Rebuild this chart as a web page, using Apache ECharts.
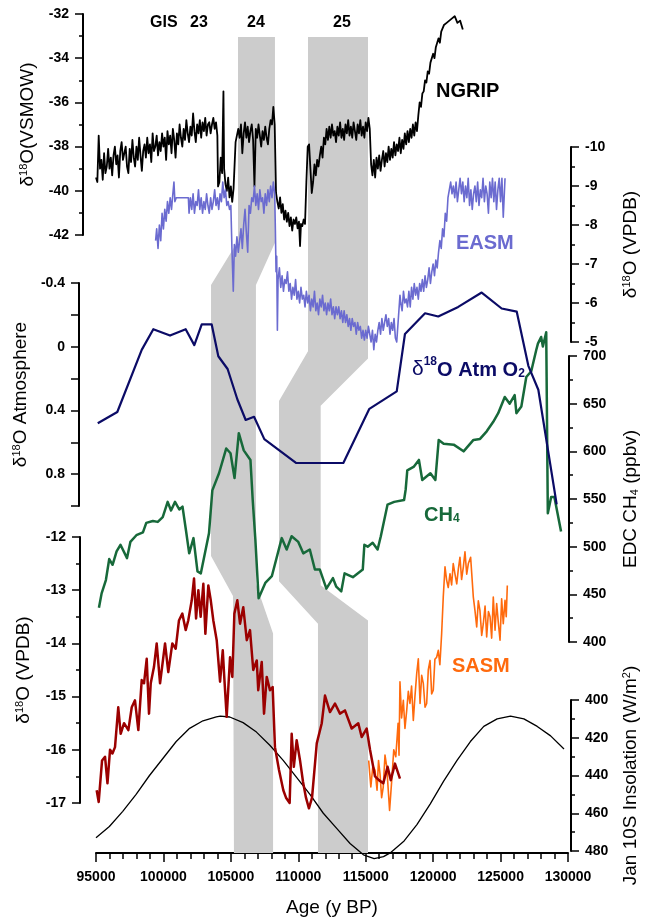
<!DOCTYPE html>
<html>
<head>
<meta charset="utf-8">
<script src="https://cdn.jsdelivr.net/npm/echarts@6/dist/echarts.min.js"></script>
<style>
  html, body { margin: 0; padding: 0; background: #fff; }
  #chart { width: 648px; height: 922px; }
</style>
</head>
<body>
<div id="chart"></div>
<script>
// ages in years BP
var ngrip = [
  [95000, -39.4], [95100, -39.6], [95200, -37.5], [95300, -39.0], [95400, -38.6], [95500, -39.5],
  [95600, -38.3], [95700, -39.2], [95800, -38.9], [95900, -38.1], [96000, -39.0], [96100, -38.5],
  [96200, -39.3], [96300, -38.4], [96400, -38.0], [96500, -38.8], [96600, -38.4], [96700, -39.4],
  [96800, -38.2], [96900, -37.8], [97000, -38.6], [97200, -38.0], [97300, -38.9], [97400, -39.2],
  [97500, -38.1], [97600, -38.7], [97700, -37.7], [97800, -38.5], [97900, -38.9], [98000, -38.0],
  [98100, -38.6], [98200, -37.6], [98300, -38.4], [98400, -39.1], [98500, -38.2], [98600, -37.9],
  [98700, -38.5], [98800, -37.6], [98900, -38.3], [99000, -37.9], [99100, -38.7], [99200, -37.4],
  [99300, -38.2], [99400, -38.0], [99500, -37.5], [99600, -38.4], [99700, -37.8], [99800, -38.2],
  [99900, -37.4], [100000, -38.0], [100100, -37.6], [100200, -38.6], [100300, -37.3], [100400, -37.9],
  [100500, -37.5], [100600, -38.3], [100700, -37.2], [100800, -37.7], [100900, -38.5], [101000, -37.4],
  [101100, -37.9], [101200, -37.0], [101300, -37.6], [101400, -38.0], [101500, -37.2], [101600, -37.7],
  [101700, -36.8], [101800, -37.4], [101900, -37.8], [102000, -37.1], [102100, -37.5], [102200, -36.5],
  [102300, -37.3], [102400, -37.8], [102500, -37.0], [102600, -37.4], [102700, -36.8], [102800, -37.6],
  [102900, -36.9], [103000, -37.3], [103100, -36.7], [103200, -37.5], [103300, -37.0], [103400, -36.9],
  [103500, -37.4], [103600, -37.0], [103700, -36.7], [103800, -37.2], [103900, -36.9], [104000, -37.5],
  [104050, -39.8], [104150, -39.6], [104250, -38.5], [104350, -39.2], [104450, -35.5], [104500, -39.0],
  [104600, -39.7], [104700, -40.0], [104800, -39.4], [104900, -40.3], [105000, -39.8], [105100, -40.5],
  [105200, -39.9], [105350, -37.8], [105450, -37.8], [105550, -37.2], [105650, -37.6], [105750, -37.0],
  [105850, -38.3], [105950, -37.4], [106050, -36.9], [106150, -37.6], [106250, -37.1], [106350, -37.8],
  [106450, -37.3], [106550, -37.0], [106650, -37.7], [106750, -39.8], [106850, -37.2], [106950, -37.6],
  [107050, -37.0], [107150, -37.5], [107250, -38.0], [107350, -37.3], [107450, -37.7], [107550, -37.1],
  [107650, -37.6], [107750, -37.9], [107850, -37.2], [107950, -36.8], [108050, -37.0], [108150, -36.2],
  [108250, -37.0], [108350, -40.1], [108450, -40.5], [108550, -40.8], [108650, -40.3], [108750, -41.0],
  [108850, -40.6], [108950, -41.3], [109050, -40.9], [109150, -41.4], [109250, -41.0], [109350, -41.6],
  [109450, -41.2], [109550, -41.8], [109650, -41.3], [109750, -41.5], [109850, -41.2], [109950, -41.7],
  [110050, -41.4], [110130, -42.5], [110200, -41.5], [110300, -41.6], [110400, -41.3], [110500, -41.5],
  [110600, -39.6], [110700, -38.0], [110800, -37.9], [110900, -39.0], [111000, -40.1], [111100, -39.6],
  [111200, -38.8], [111300, -39.3], [111400, -38.6], [111500, -38.9], [111600, -38.4], [111700, -38.0],
  [111800, -38.5], [111900, -37.6], [112000, -37.9], [112100, -37.2], [112200, -37.7], [112300, -37.1],
  [112400, -37.6], [112500, -37.0], [112600, -37.5], [112700, -37.3], [112800, -37.8], [112900, -37.1],
  [113000, -37.5], [113100, -36.9], [113200, -37.6], [113300, -37.2], [113400, -37.7], [113500, -37.0],
  [113600, -37.4], [113700, -36.8], [113800, -37.5], [113900, -37.1], [114000, -37.6], [114100, -36.9],
  [114200, -37.3], [114300, -37.7], [114400, -37.0], [114500, -37.4], [114600, -36.8], [114700, -37.5],
  [114800, -37.1], [114900, -37.6], [115000, -36.9], [115100, -37.3], [115200, -36.7], [115300, -37.2],
  [115400, -38.8], [115500, -39.3], [115600, -38.6], [115700, -39.4], [115800, -38.5], [115900, -39.0],
  [116000, -38.4], [116100, -39.1], [116200, -38.6], [116300, -38.2], [116400, -38.9], [116500, -38.3],
  [116600, -38.7], [116700, -38.0], [116800, -38.6], [116900, -38.1], [117000, -38.5], [117100, -37.8],
  [117200, -38.4], [117300, -37.9], [117400, -38.2], [117500, -37.6], [117600, -38.3], [117700, -37.7],
  [117800, -38.1], [117900, -37.4], [118000, -37.9], [118100, -37.3], [118200, -37.8], [118300, -37.2],
  [118400, -37.6], [118500, -37.0], [118600, -37.5], [118700, -36.9], [118800, -37.3], [118900, -36.6],
  [119000, -36.0], [119100, -36.2], [119200, -35.6], [119300, -35.5], [119400, -35.0], [119500, -35.1],
  [119600, -34.6], [119700, -34.7], [119800, -34.2], [120000, -33.8], [120100, -34.0], [120200, -33.5],
  [120400, -33.1], [120500, -33.3], [120600, -32.8], [120800, -32.5], [121000, -32.4], [121200, -32.3],
  [121400, -32.2], [121600, -32.1], [121800, -32.4], [122000, -32.3], [122200, -32.7]
];

var easm = [
  [99420, -7.6], [99500, -7.9], [99600, -7.4], [99700, -8.0], [99800, -7.6], [99900, -8.3],
  [100000, -7.9], [100100, -8.4], [100200, -8.1], [100300, -8.6], [100400, -8.3], [100500, -8.7],
  [100600, -8.4], [100700, -8.8], [100780, -9.1], [100850, -8.6], [100950, -8.7], [101100, -8.7],
  [101300, -8.7], [101500, -8.7], [101700, -8.7], [101850, -8.7], [101900, -8.3], [102000, -8.7],
  [102100, -8.4], [102200, -8.8], [102300, -8.3], [102400, -8.6], [102500, -8.5], [102600, -8.9],
  [102700, -8.4], [102800, -8.7], [102900, -8.3], [103000, -8.6], [103100, -8.4], [103200, -8.8],
  [103300, -8.5], [103400, -8.3], [103500, -8.7], [103600, -8.4], [103700, -8.6], [103800, -8.9],
  [103900, -8.5], [104000, -8.7], [104100, -8.4], [104200, -8.8], [104300, -8.6], [104400, -9.1],
  [104500, -8.7], [104600, -8.9], [104700, -8.5], [104800, -8.6], [104900, -8.4], [105000, -8.5],
  [105080, -7.4], [105180, -6.3], [105260, -7.5], [105350, -7.2], [105450, -7.7], [105550, -7.3],
  [105650, -7.6], [105750, -7.9], [105850, -7.4], [105950, -8.0], [106050, -8.4], [106150, -7.8],
  [106250, -7.3], [106350, -8.5], [106450, -8.3], [106550, -8.7], [106650, -8.6], [106750, -9.0],
  [106850, -8.5], [106950, -8.8], [107050, -8.4], [107150, -8.9], [107250, -8.6], [107350, -8.7],
  [107450, -8.3], [107550, -8.8], [107650, -8.5], [107750, -8.9], [107850, -8.6], [107950, -9.0],
  [108050, -8.7], [108150, -9.1], [108250, -8.8], [108300, -7.9], [108350, -6.8], [108400, -7.2],
  [108450, -5.3], [108500, -6.6], [108600, -6.9], [108700, -6.4], [108800, -6.7], [108900, -6.3],
  [109000, -6.6], [109100, -6.5], [109200, -6.8], [109300, -6.3], [109400, -6.5], [109500, -6.1],
  [109600, -6.4], [109700, -6.2], [109800, -6.6], [109900, -6.1], [110000, -6.3], [110100, -6.0],
  [110200, -6.4], [110300, -6.1], [110400, -6.2], [110500, -5.9], [110600, -6.3], [110700, -6.0],
  [110800, -6.2], [110900, -5.8], [111000, -6.1], [111100, -5.9], [111200, -6.3], [111300, -5.8],
  [111400, -6.0], [111500, -5.7], [111600, -6.1], [111700, -5.9], [111800, -6.2], [111900, -5.8],
  [112000, -6.0], [112100, -5.7], [112200, -6.0], [112300, -5.8], [112400, -6.1], [112500, -5.7],
  [112600, -5.9], [112700, -5.6], [112800, -5.9], [112900, -5.7], [113000, -5.9], [113100, -5.6],
  [113200, -5.8], [113300, -5.5], [113400, -5.8], [113500, -5.5], [113600, -5.7], [113700, -5.4],
  [113800, -5.6], [113900, -5.3], [114000, -5.6], [114100, -5.4], [114200, -5.5], [114300, -5.2],
  [114400, -5.5], [114500, -5.3], [114600, -5.4], [114700, -5.1], [114800, -5.3], [114900, -5.05],
  [115000, -5.3], [115100, -5.1], [115200, -5.4], [115300, -5.4], [115400, -5.0], [115500, -5.3],
  [115600, -4.8], [115700, -5.2], [115800, -5.0], [115900, -5.3], [116000, -5.5], [116100, -5.2],
  [116200, -5.6], [116300, -5.3], [116400, -5.5], [116500, -5.7], [116600, -5.4], [116700, -5.6],
  [116800, -5.2], [116900, -5.5], [117000, -5.3], [117100, -5.6], [117200, -5.1], [117300, -5.0],
  [117400, -5.5], [117540, -6.2], [117600, -6.0], [117700, -5.8], [117800, -6.3], [117900, -6.0],
  [118000, -6.1], [118100, -5.9], [118200, -6.3], [118300, -5.9], [118400, -6.4], [118500, -6.1],
  [118600, -6.5], [118700, -6.2], [118800, -6.4], [118900, -6.1], [119000, -6.5], [119100, -6.3],
  [119200, -6.6], [119300, -6.3], [119400, -6.7], [119500, -6.4], [119600, -6.6], [119700, -6.9],
  [119800, -6.5], [119900, -6.8], [120000, -7.0], [120100, -6.7], [120200, -7.1], [120300, -6.9],
  [120400, -7.3], [120500, -7.6], [120600, -7.4], [120700, -7.9], [120800, -7.7], [120900, -8.3],
  [121000, -8.1], [121100, -8.7], [121200, -8.9], [121300, -9.1], [121400, -8.8], [121500, -9.0],
  [121600, -8.7], [121700, -9.1], [121800, -8.6], [121900, -8.9], [122000, -9.2], [122100, -8.8],
  [122200, -9.1], [122300, -8.6], [122400, -9.0], [122500, -8.7], [122600, -9.2], [122700, -8.5],
  [122800, -8.9], [122900, -8.4], [123000, -8.8], [123100, -9.0], [123200, -8.6], [123300, -9.1],
  [123400, -8.5], [123500, -8.9], [123600, -8.7], [123700, -9.2], [123800, -8.6], [123900, -9.0],
  [124000, -8.8], [124100, -8.3], [124200, -9.1], [124300, -8.7], [124400, -9.2], [124500, -8.6],
  [124600, -9.1], [124700, -8.4], [124800, -8.9], [124900, -9.2], [125000, -8.6], [125100, -9.2],
  [125200, -8.2], [125330, -9.2]
];

var atmO2 = [
  [95130, 0.48], [96580, 0.41], [98390, 0.02], [99250, -0.11], [100490, -0.07], [101650, -0.11],
  [102290, -0.01], [102840, -0.14], [103580, -0.14], [104070, 0.06], [104760, 0.14], [105480, 0.33],
  [106100, 0.46], [106720, 0.44], [107480, 0.58], [109830, 0.73], [113340, 0.73], [115270, 0.39],
  [117300, 0.28], [117910, -0.08], [119400, -0.21], [120380, -0.19], [121860, -0.25], [123600, -0.34],
  [125080, -0.24], [126200, -0.22], [127060, 0.12], [127800, 0.27], [129160, 0.99]
];

var ch4 = [
  [95220, 436], [95420, 451], [95740, 465], [95990, 487], [96240, 481], [96540, 495], [96830, 502],
  [97320, 488], [97570, 505], [98020, 512], [98510, 515], [98760, 525], [99250, 527], [99620, 526],
  [99990, 531], [100360, 547], [100610, 538], [100910, 547], [101230, 539], [101470, 542], [101730, 517],
  [101970, 493], [102290, 509], [102590, 474], [102840, 472], [103450, 514], [103700, 559], [104200, 577],
  [104740, 603], [105060, 598], [105360, 572], [105680, 619], [106050, 601], [106550, 591], [106720, 549],
  [106920, 507], [107160, 446], [107660, 462], [108150, 469], [108890, 509], [109260, 497], [109630, 511],
  [110130, 505], [110500, 493], [110990, 497], [111370, 476], [111740, 476], [112230, 456], [112720, 467],
  [112970, 458], [113340, 453], [113590, 472], [114210, 468], [114950, 476], [115070, 502], [115320, 500],
  [115690, 504], [116060, 497], [116300, 511], [116800, 544], [117300, 547], [118040, 549], [118160, 560],
  [118280, 580], [118780, 584], [119150, 591], [119400, 570], [120010, 577], [120380, 570], [120630, 612],
  [121000, 608], [121750, 607], [122490, 600], [123230, 612], [123720, 613], [124220, 621], [124710, 631],
  [125080, 640], [125570, 657], [125940, 650], [126310, 659], [126440, 640], [126810, 647], [127180, 678],
  [127550, 684], [127920, 706], [128050, 713], [128290, 720], [128420, 710], [128670, 725], [128790, 535],
  [129040, 552], [129280, 552], [129780, 516]
];

var sasmRed = [
  [95050, -16.76], [95200, -16.98], [95450, -16.2], [95670, -16.13], [95850, -16.63], [96040, -16.0],
  [96220, -16.07], [96410, -15.95], [96650, -15.2], [96830, -15.7], [97080, -15.5], [97400, -15.63],
  [97650, -15.2], [97890, -15.07], [98140, -15.63], [98390, -14.69], [98560, -14.75], [98760, -14.29],
  [98930, -15.32], [99060, -14.75], [99300, -14.44], [99500, -14.0], [99750, -14.75], [100120, -14.0],
  [100360, -14.54], [100660, -14.0], [100910, -14.1], [101150, -13.57], [101400, -13.44], [101650, -13.75],
  [101840, -13.57], [102100, -13.19], [102270, -12.78], [102420, -13.53], [102590, -13.0], [102760, -13.5],
  [102960, -12.88], [103110, -13.82], [103330, -12.91], [103510, -13.19], [103700, -13.57], [103950, -13.94],
  [104200, -14.72], [104400, -14.13], [104510, -14.63], [104690, -15.38], [104940, -14.26], [105110, -14.63],
  [105260, -13.44], [105480, -13.19], [105680, -13.63], [105920, -13.32], [106180, -13.94], [106420, -13.75],
  [106660, -14.5], [106920, -14.32], [107030, -14.88], [107290, -14.35], [107460, -15.32], [107660, -14.63],
  [107900, -14.88], [108100, -14.82], [108270, -15.95], [108570, -16.38], [108890, -16.76], [109090, -16.9],
  [109360, -17.0], [109510, -15.7], [109670, -16.32], [109880, -15.82], [110130, -16.2], [110350, -16.6],
  [110570, -16.9], [110790, -17.1], [111020, -16.9], [111370, -15.88], [111740, -15.5], [111980, -14.98],
  [112110, -14.98], [112350, -15.29], [112720, -15.13], [113090, -15.32], [113460, -15.26], [113960, -15.6],
  [114450, -15.5], [114700, -15.76], [115070, -15.6], [115320, -16.0], [115690, -16.5], [115980, -16.57],
  [116300, -16.63], [116620, -16.32], [116860, -16.57], [117170, -16.26], [117540, -16.54]
];

var sasmOrange = [
  [115220, -16.2], [115380, -16.7], [115530, -16.3], [115690, -16.38], [115840, -16.76], [115950, -16.2],
  [116060, -16.45], [116180, -16.9], [116300, -16.7], [116430, -16.1], [116560, -16.32], [116770, -17.14],
  [116930, -16.57], [117080, -16.0], [117230, -16.13], [117400, -15.5], [117470, -16.1], [117540, -14.72],
  [117660, -15.4], [117790, -15.07], [117910, -15.6], [118040, -15.26], [118160, -14.9], [118280, -15.13],
  [118400, -14.8], [118530, -15.45], [118650, -15.0], [118780, -14.57], [118900, -14.29], [119030, -15.13],
  [119150, -14.6], [119270, -14.75], [119400, -15.2], [119520, -15.13], [119640, -14.5], [119770, -14.32],
  [119890, -14.95], [120010, -14.88], [120130, -14.3], [120260, -14.26], [120380, -14.13], [120500, -14.4],
  [120630, -13.82], [120750, -13.13], [120880, -12.56], [121000, -12.81], [121120, -12.95], [121250, -12.69],
  [121370, -12.9], [121490, -12.5], [121620, -12.7], [121750, -12.88], [121870, -12.6], [121990, -12.38],
  [122110, -12.8], [122240, -12.56], [122360, -12.28], [122490, -12.7], [122610, -12.5], [122780, -12.38],
  [122980, -13.13], [123100, -13.38], [123230, -13.69], [123350, -13.2], [123470, -13.38], [123600, -13.85],
  [123720, -13.63], [123850, -13.3], [123970, -13.88], [124100, -13.4], [124220, -13.5], [124340, -13.9],
  [124460, -13.13], [124590, -13.75], [124710, -13.25], [124830, -13.6], [124960, -13.94], [125080, -13.16],
  [125200, -13.63], [125330, -13.19], [125420, -13.5], [125500, -12.91]
];

var insolation = [
  [95000, 473], [96000, 467], [97000, 459], [98000, 450], [99000, 440], [100000, 431], [101000, 422],
  [102000, 415], [103000, 411], [104000, 409], [104300, 408.5], [105000, 409], [106000, 412], [107000, 417],
  [108000, 424], [109000, 432], [110000, 441], [111000, 450], [112000, 460], [113000, 468], [114000, 476],
  [115000, 482], [115800, 484], [116500, 483], [117000, 481], [118000, 475], [119000, 466], [120000, 455],
  [121000, 443], [122000, 432], [123000, 422], [124000, 414], [125000, 410], [126000, 408.5], [127000, 410],
  [128000, 414], [129000, 419], [130000, 426]
];

// grey correlation bands: [age, depth in % of plot height from top]
var band24 = [
  [105530, 0], [108270, 0], [108270, 25.2], [106860, 30.4], [106860, 67.0], [108130, 73.1],
  [108130, 100], [105230, 100], [105160, 68.5], [103530, 63.6], [103530, 30.4], [105530, 25.0]
];
var band25 = [
  [110720, 0], [115170, 0], [115170, 39.4], [111660, 45.2], [111660, 67.2], [115170, 71.5],
  [115170, 100], [111460, 100], [111460, 71.9], [108570, 66.7], [108570, 44.6], [110720, 38.5]
];
var bands = [band24, band25];

var FONT = 'Liberation Sans, Arial, sans-serif';
var AGE_MIN = 95000, AGE_MAX = 130000;

function grid (top, height) {
  return { left: 96, right: 80, top: top, height: height, containLabel: false };
}

function hiddenX (i) {
  return { gridIndex: i, type: 'value', min: AGE_MIN, max: AGE_MAX, show: false };
}

function valAxis (i, pos, offset, min, max, interval, inverse, name, nameGap, extra) {
  var ax = {
    gridIndex: i,
    type: 'value',
    position: pos,
    offset: offset,
    min: min,
    max: max,
    interval: interval,
    inverse: inverse,
    name: name,
    nameLocation: 'middle',
    nameRotate: 90,
    nameGap: nameGap,
    nameTextStyle: {
      fontFamily: FONT, fontSize: 19, color: '#000',
      rich: {
        sup: { fontFamily: FONT, fontSize: 11, verticalAlign: 'top', lineHeight: 11, color: '#000' },
        sub: { fontFamily: FONT, fontSize: 11, verticalAlign: 'bottom', lineHeight: 11, color: '#000' }
      }
    },
    axisLine: { show: true, onZero: false, lineStyle: { color: '#000', width: 2 } },
    axisTick: { show: true, inside: false, length: 8, lineStyle: { color: '#000', width: 1.5 } },
    minorTick: { show: true, splitNumber: 2, length: 4, lineStyle: { color: '#000', width: 1.5 } },
    axisLabel: { fontFamily: FONT, fontSize: 14, fontWeight: 'bold', color: '#000', margin: 14 },
    splitLine: { show: false },
    minorSplitLine: { show: false }
  };
  if (extra) {
    for (var k in extra) ax[k] = extra[k];
  }
  return ax;
}

function lineSeries (name, i, data, color, width, z) {
  return {
    name: name,
    type: 'line',
    xAxisIndex: i,
    yAxisIndex: i,
    data: data,
    showSymbol: false,
    symbol: 'none',
    clip: false,
    z: z,
    lineStyle: { color: color, width: width, join: 'round' }
  };
}

var option = {
  animation: false,
  backgroundColor: '#fff',
  grid: [
    { left: 96, right: 80, top: 37, bottom: 60 },
    grid(14, 221),
    grid(147, 195),
    grid(283, 223),
    grid(356, 286),
    grid(537, 266),
    grid(700, 151)
  ],
  xAxis: [
    {
      gridIndex: 0,
      type: 'value',
      min: AGE_MIN,
      max: AGE_MAX,
      interval: 5000,
      name: 'Age (y BP)',
      nameLocation: 'middle',
      nameGap: 45,
      nameTextStyle: { fontFamily: FONT, fontSize: 19, color: '#000' },
      axisLine: { show: true, onZero: false, lineStyle: { color: '#000', width: 2 } },
      axisTick: { show: true, inside: false, length: 9, lineStyle: { color: '#000', width: 1.5 } },
      minorTick: { show: true, splitNumber: 5, length: 6, lineStyle: { color: '#000', width: 1.5 } },
      axisLabel: {
        fontFamily: FONT, fontSize: 14, fontWeight: 'bold', color: '#000', margin: 17,
        formatter: function (v) { return String(v); }
      },
      splitLine: { show: false }
    },
    hiddenX(1), hiddenX(2), hiddenX(3), hiddenX(4), hiddenX(5), hiddenX(6)
  ],
  yAxis: [
    { gridIndex: 0, type: 'value', min: 0, max: 100, inverse: true, show: false },
    valAxis(1, 'left', 13, -42, -32, 2, false, 'δ{sup|18}O(VSMOW)', 46),
    valAxis(2, 'right', 3, -10, -5, 1, true, 'δ{sup|18}O (VPDB)', 50),
    valAxis(3, 'left', 17, -0.4, 1.0, 0.2, true, 'δ{sup|18}O Atmosphere', 47, {
      minorTick: { show: false },
      axisLabel: {
        fontFamily: FONT, fontSize: 14, fontWeight: 'bold', color: '#000', margin: 14,
        formatter: function (v) {
          var r = Math.round(v * 10) / 10;
          if (Math.abs(Math.round(r / 0.4) * 0.4 - r) < 1e-6 && r < 0.95) return r === 0 ? '0' : String(r);
          return '';
        }
      }
    }),
    valAxis(4, 'right', 5, 400, 700, 50, false, 'EDC CH{sub|4} (ppbv)', 52),
    valAxis(5, 'left', 16, -17, -12, 1, false, 'δ{sup|18}O (VPDB)', 47),
    valAxis(6, 'right', 7, 400, 480, 20, true, 'Jan 10S Insolation (W/m{sup|2})', 50)
  ],
  series: [
    {
      type: 'custom',
      xAxisIndex: 0,
      yAxisIndex: 0,
      z: 1,
      silent: true,
      data: bands.map(function (b) { return b[0]; }),
      renderItem: function (params, api) {
        var pts = bands[params.dataIndex].map(function (p) { return api.coord(p); });
        return { type: 'polygon', shape: { points: pts }, style: { fill: '#cccccc' } };
      }
    },
    lineSeries('NGRIP', 1, ngrip, '#000000', 1.8, 5),
    lineSeries('EASM', 2, easm, '#6b6bd0', 1.6, 5),
    lineSeries('Atm O2', 3, atmO2, '#0b0b66', 2.2, 6),
    lineSeries('CH4', 4, ch4, '#17693a', 2.5, 5),
    lineSeries('SASM orange', 5, sasmOrange, '#ff6a0d', 1.6, 5),
    lineSeries('SASM red', 5, sasmRed, '#9b0000', 2.5, 6),
    lineSeries('Insolation', 6, insolation, '#000000', 1.3, 4)
  ],
  graphic: [
    { type: 'text', left: 150, top: 15, style: { text: 'GIS', font: 'bold 16px ' + FONT, fill: '#000' } },
    { type: 'text', left: 190, top: 15, style: { text: '23', font: 'bold 16px ' + FONT, fill: '#000' } },
    { type: 'text', left: 247, top: 15, style: { text: '24', font: 'bold 16px ' + FONT, fill: '#000' } },
    { type: 'text', left: 333, top: 15, style: { text: '25', font: 'bold 16px ' + FONT, fill: '#000' } },
    { type: 'text', left: 436, top: 81, style: { text: 'NGRIP', font: 'bold 20px ' + FONT, fill: '#000' } },
    { type: 'text', left: 456, top: 233, style: { text: 'EASM', font: 'bold 20px ' + FONT, fill: '#6b6bd0' } },
    {
      type: 'text', left: 412, top: 356,
      style: {
        text: '{d|δ}{sup|18}{b|O Atm O}{sub|2}',
        rich: {
          d: { font: '21px ' + FONT, fill: '#0b0b66', lineHeight: 24, verticalAlign: 'bottom' },
          sup: { font: 'bold 12px ' + FONT, fill: '#0b0b66', lineHeight: 12, verticalAlign: 'top' },
          b: { font: 'bold 20px ' + FONT, fill: '#0b0b66', lineHeight: 24, verticalAlign: 'bottom' },
          sub: { font: 'bold 12px ' + FONT, fill: '#0b0b66', lineHeight: 12, verticalAlign: 'bottom' }
        }
      }
    },
    {
      type: 'text', left: 424, top: 505,
      style: {
        text: '{b|CH}{sub|4}',
        rich: {
          b: { font: 'bold 20px ' + FONT, fill: '#17693a', lineHeight: 24, verticalAlign: 'bottom' },
          sub: { font: 'bold 12px ' + FONT, fill: '#17693a', lineHeight: 12, verticalAlign: 'bottom' }
        }
      }
    },
    { type: 'text', left: 452, top: 656, style: { text: 'SASM', font: 'bold 20px ' + FONT, fill: '#ff6a0d' } }
  ]
};

var myChart = echarts.init(document.getElementById('chart'), null, { renderer: 'canvas' });
myChart.setOption(option);
</script>
</body>
</html>
